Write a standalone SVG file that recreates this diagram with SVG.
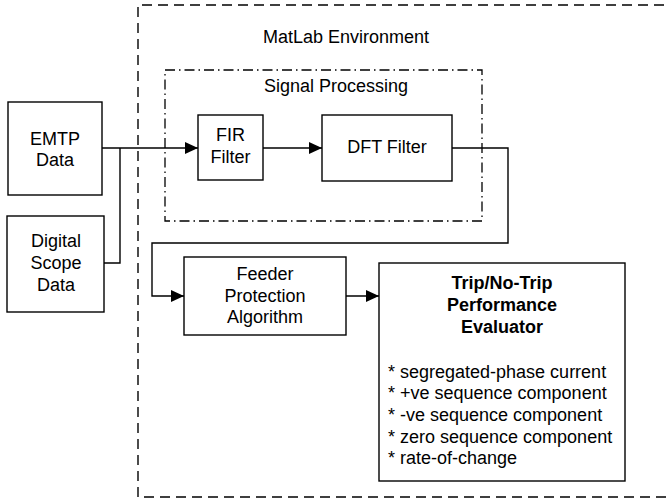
<svg xmlns="http://www.w3.org/2000/svg" width="666" height="499" viewBox="0 0 666 499">
<style>
.box{fill:#fff;stroke:#000;stroke-width:1.4}
.t{font-family:"Liberation Sans",Arial,sans-serif;font-size:18px;fill:#000}
.c{text-anchor:middle}
.b{font-weight:bold}
.ln{fill:none;stroke:#000;stroke-width:1.4}
</style>
<defs>
<marker id="arr" markerUnits="userSpaceOnUse" markerWidth="14" markerHeight="14" viewBox="0 0 14 14" refX="13" refY="7" orient="auto">
<polygon points="0,1 13,7 0,13" fill="#000"/>
</marker>
</defs>
<rect width="666" height="499" fill="#fff"/>
<g id="matlab-env">
<path d="M680,5 H138 V497 H680" fill="none" stroke="#000" stroke-width="1.4" stroke-dasharray="10,6"/>
<text class="t" x="263" y="43">MatLab Environment</text>
</g>
<g id="signal-processing">
<rect x="165" y="70" width="317" height="151" fill="none" stroke="#000" stroke-width="1.3" stroke-dasharray="10,4,1.5,4"/>
<text class="t" x="264" y="92">Signal Processing</text>
</g>
<g id="connectors">
<path class="ln" d="M102,148 H198" marker-end="url(#arr)"/>
<path class="ln" d="M104,263 H120 V148"/>
<path class="ln" d="M263,148 H322" marker-end="url(#arr)"/>
<path class="ln" d="M452,148 H508 V243 H152 V296 H184" marker-end="url(#arr)"/>
<path class="ln" d="M346,296 H379" marker-end="url(#arr)"/>
</g>
<g id="emtp">
<rect class="box" x="8" y="102" width="94" height="93"/>
<text class="t c" x="55" y="145">EMTP</text>
<text class="t c" x="55" y="166">Data</text>
</g>
<g id="scope">
<rect class="box" x="7" y="216" width="97" height="96"/>
<text class="t c" x="56" y="247">Digital</text>
<text class="t c" x="56" y="269">Scope</text>
<text class="t c" x="56" y="291">Data</text>
</g>
<g id="fir">
<rect class="box" x="198" y="115" width="65" height="65"/>
<text class="t c" x="230.5" y="141">FIR</text>
<text class="t c" x="230.5" y="163">Filter</text>
</g>
<g id="dft">
<rect class="box" x="322" y="115" width="130" height="66"/>
<text class="t c" x="387" y="153">DFT Filter</text>
</g>
<g id="feeder">
<rect class="box" x="184" y="257" width="162" height="78"/>
<text class="t c" x="265" y="280">Feeder</text>
<text class="t c" x="265" y="302">Protection</text>
<text class="t c" x="265" y="323">Algorithm</text>
</g>
<g id="evaluator">
<rect class="box" x="379" y="263" width="246" height="218"/>
<text class="t c b" x="502" y="289">Trip/No-Trip</text>
<text class="t c b" x="502" y="311">Performance</text>
<text class="t c b" x="502" y="333">Evaluator</text>
<text class="t" x="388" y="378">* segregated-phase current</text>
<text class="t" x="388" y="399">* +ve sequence component</text>
<text class="t" x="388" y="421">* -ve sequence component</text>
<text class="t" x="388" y="443">* zero sequence component</text>
<text class="t" x="388" y="464">* rate-of-change</text>
</g>
</svg>
